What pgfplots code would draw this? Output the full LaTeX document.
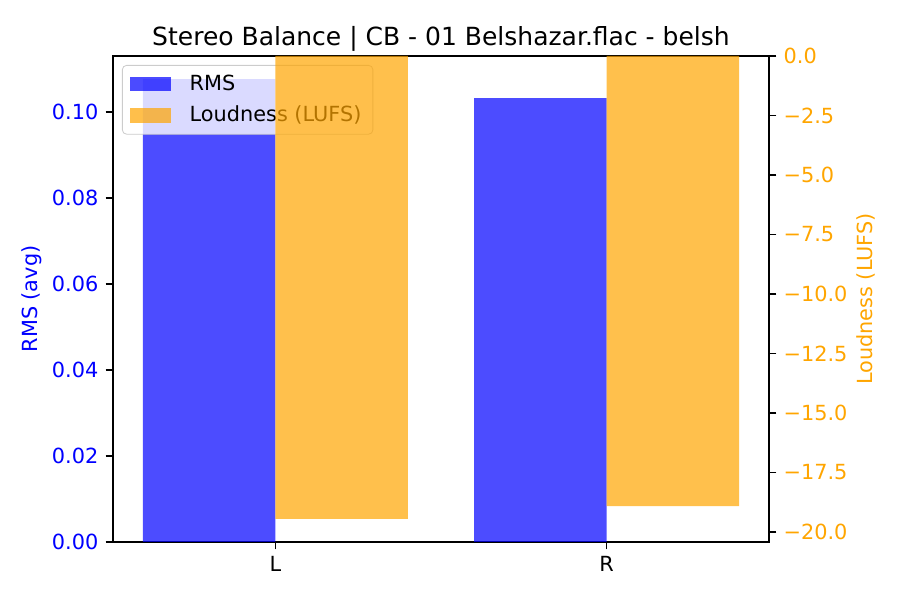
\documentclass[border=0pt]{standalone}
\usepackage{pgfplots}
\pgfplotsset{compat=1.18}
\usepackage{fontspec}
\setmainfont{DejaVu Sans}
\definecolor{mplblue}{RGB}{0,0,255}
\definecolor{mplorange}{RGB}{255,165,0}

\begin{document}
\begin{tikzpicture}
% page = 900x600 px at 150 dpi (1 px = 0.48pt)
\path[use as bounding box] (-54.24pt,-27.84pt) rectangle (377.76pt,260.16pt);
\pgfplotsset{
  every axis/.append style={
    scale only axis, width=314.88pt, height=233.28pt,
    at={(0,0)}, anchor=south west,
    xmin=-0.49, xmax=1.49,
    tick align=outside, major tick length=3.5pt,
    tick style={black, line width=0.8pt},
    axis line style={line width=0.8pt},
    ticklabel style={font=\fontsize{10}{12}\selectfont},
    label style={font=\fontsize{10}{12}\selectfont},
    /pgf/number format/assume math mode=true,
  }
}
\begin{axis}[
  ymin=0, ymax=0.1131,
  xtick={0,1}, xticklabels={L,R},
  xtick pos=bottom, ytick pos=left,
  ytick={0,0.02,0.04,0.06,0.08,0.1},
  scaled y ticks=false,
  yticklabel style={text=mplblue, /pgf/number format/fixed,
    /pgf/number format/fixed zerofill, /pgf/number format/precision=2},
  ylabel={RMS (avg)},
  every axis y label/.style={at={(axis description cs:-0.1235,0.5)},
    anchor=center, rotate=90, text=mplblue},
  title={Stereo Balance | CB - 01 Belshazar.flac - belsh},
  every axis title/.style={at={(axis description cs:0.5,1.035)}, anchor=center,
    font=\fontsize{12}{14}\selectfont},
  legend cell align=left,
  legend image code/.code={\fill[#1, sharp corners] (0pt,-3.5pt) rectangle (20pt,3.5pt);},
  legend style={at={(axis description cs:0.0137,0.9815)}, anchor=north west,
    draw=black!20, fill=white, fill opacity=0.8, text opacity=1,
    rounded corners=2pt, font=\fontsize{10}{12}\selectfont,
    inner xsep=3.5pt, inner ysep=2.5pt, row sep=2pt,
    /tikz/every odd column/.append style={column sep=6.8pt}},
]
\addplot[ybar, bar width=0.4, bar shift=-0.2, fill=mplblue, fill opacity=0.7, draw=none]
  coordinates {(0,0.1077) (1,0.1033)};
\addlegendentry{RMS}
\addlegendimage{fill=mplorange, fill opacity=0.7, draw=none}
\addlegendentry{Loudness (LUFS)}
\end{axis}
\begin{axis}[
  ymin=-20.42, ymax=0,
  axis y line*=right, axis x line=none,
  ytick={-20,-17.5,-15,-12.5,-10,-7.5,-5,-2.5,0},
  yticklabels={−20.0,−17.5,−15.0,−12.5,−10.0,−7.5,−5.0,−2.5,0.0},
  yticklabel style={text=mplorange},
  ylabel={Loudness (LUFS)},
  every axis y label/.style={at={(axis description cs:1.1479,0.5)},
    anchor=center, rotate=90, text=mplorange},
]
\addplot[ybar, bar width=0.4, bar shift=0.2, fill=mplorange, fill opacity=0.7, draw=none]
  coordinates {(0,-19.45) (1,-18.91)};
\end{axis}
\end{tikzpicture}
\end{document}
